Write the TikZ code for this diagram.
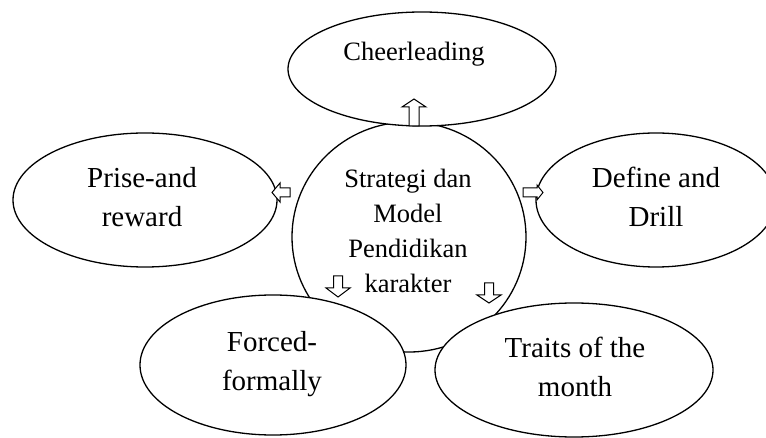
\documentclass[tikz,border=0pt]{standalone}
\usepackage{fontspec}
\setmainfont{Liberation Serif}
\usetikzlibrary{shapes.geometric}

\tikzset{
  oval/.style={ellipse, draw=black, line width=1.3pt, fill=white, inner sep=0pt},
  bigtext/.style={align=center, font=\fontsize{29}{39}\selectfont, inner sep=0pt},
  smalltext/.style={align=center, font=\fontsize{26.5}{35}\selectfont, inner sep=0pt},
  blockarrow/.style={draw=black, line width=1pt, fill=white, line join=miter},
}

\begin{document}
\begin{tikzpicture}[x=1pt, y=-1pt]
  \useasboundingbox (0,0) rectangle (766,438);

  % central strategy circle
  \node[oval, minimum width=234pt, minimum height=230pt] (core) at (409,237) {};

  % surrounding strategies
  \node[oval, minimum width=264pt, minimum height=134pt] (prise)  at (145,200) {};
  \node[oval, minimum width=240pt, minimum height=134pt] (define) at (656,200) {};
  \node[oval, minimum width=268pt, minimum height=114pt] (cheer)  at (422,69) {};
  \node[oval, minimum width=266pt, minimum height=140pt] (forced) at (273,365) {};
  \node[oval, minimum width=278pt, minimum height=134pt] (traits) at (574,370) {};

  % hollow block arrows pointing outwards from the centre
  \coordinate (tipUp)    at (414,99);
  \coordinate (tipLeft)  at (272,192.5);
  \coordinate (tipRight) at (543,192.5);
  \coordinate (tipDL)    at (338,297);
  \coordinate (tipDR)    at (489,303);

  \draw[blockarrow] (tipUp) -- ++(12,8) -- ++(-7,0) -- ++(0,19) -- ++(-10,0)
        -- ++(0,-19) -- ++(-7,0) -- cycle;
  \draw[blockarrow] (tipLeft) -- ++(8,-9.5) -- ++(0,5) -- ++(10,0) -- ++(0,9)
        -- ++(-10,0) -- ++(0,5) -- cycle;
  \draw[blockarrow] (tipRight) -- ++(-6,-7.5) -- ++(0,3) -- ++(-14,0) -- ++(0,9)
        -- ++(14,0) -- ++(0,3) -- cycle;
  \draw[blockarrow] (tipDL) -- ++(12,-9) -- ++(-7.5,0) -- ++(0,-12) -- ++(-9,0)
        -- ++(0,12) -- ++(-7.5,0) -- cycle;
  \draw[blockarrow] (tipDR) -- ++(12,-8) -- ++(-7.5,0) -- ++(0,-12) -- ++(-9,0)
        -- ++(0,12) -- ++(-7.5,0) -- cycle;

  % labels
  \node[smalltext, anchor=base] (cheer-t) at (414,61) {Cheerleading};
  \node[smalltext] (core-t)   at (408,230.5) {Strategi dan\\Model\\Pendidikan\\karakter};
  \node[bigtext]   (prise-t)  at (142,196.7) {Prise-and\\reward};
  \node[bigtext]   (define-t) at (656,196.7) {Define and\\Drill};
  \node[bigtext]   (forced-t) at (272,364.2) {Forced-\\formally};
  \node[bigtext]   (traits-t) at (575,366.6) {Traits of the\\month};
\end{tikzpicture}
\end{document}
